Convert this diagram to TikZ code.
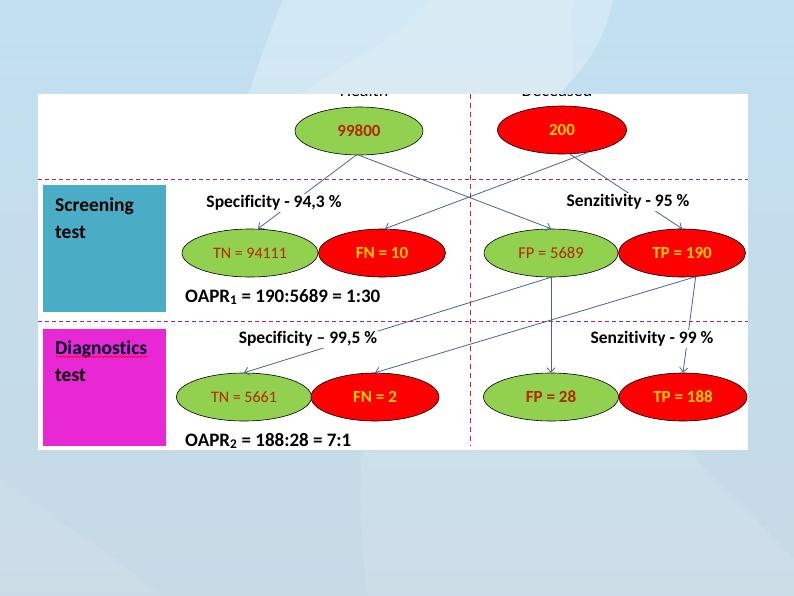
\documentclass[tikz,border=0pt]{standalone}
\usepackage{fontspec}
\setmainfont{Carlito}[Ligatures=NoCommon]
\usetikzlibrary{shapes.geometric,arrows.meta,decorations.pathmorphing}
\definecolor{bgtop}{RGB}{194,224,241}
\definecolor{bgbot}{RGB}{199,217,229}
\definecolor{gfill}{RGB}{146,208,80}
\definecolor{rfill}{RGB}{255,0,0}
\definecolor{gtext}{RGB}{180,40,0}
\definecolor{rtext}{RGB}{255,205,0}
\definecolor{arrc}{RGB}{72,100,148}
\definecolor{hdc}{RGB}{160,40,110}
\definecolor{vdc}{RGB}{205,30,50}
\definecolor{teal}{RGB}{75,172,198}
\definecolor{magb}{RGB}{232,40,212}
\begin{document}
\begin{tikzpicture}[x=1pt,y=-1pt,
  ell/.style={ellipse,draw=black,line width=0.6pt,inner sep=0pt,minimum height=48pt},
  gell/.style={ell,fill=gfill,text=gtext,font=\fontsize{17}{19}\selectfont\bfseries},
  rell/.style={ell,fill=rfill,text=rtext,font=\fontsize{17}{19}\selectfont\bfseries},
  arr/.style={draw=arrc,line width=0.8pt,-{Straight Barb[length=4.5pt,width=8pt]}},
  lab/.style={fill=white,inner sep=1pt,font=\fontsize{17.5}{20}\selectfont\bfseries},
  boxt/.style={anchor=west,inner sep=0pt,font=\fontsize{19.5}{22}\selectfont\bfseries},
  oapr/.style={anchor=west,inner sep=0pt,font=\fontsize{19}{22}\selectfont\bfseries},
  toplab/.style={anchor=base,inner sep=0pt,font=\fontsize{18}{20}\selectfont},
  hdash/.style={draw=hdc,line width=0.7pt,dash pattern=on 4pt off 3pt},
  vdash/.style={draw=vdc,line width=0.7pt,dash pattern=on 5pt off 4pt}]
\useasboundingbox (0,0) rectangle (794,595);
% background
\shade[top color=bgtop,bottom color=bgbot] (0,0) rectangle (794,595);
\fill[white,opacity=0.28] (283,0) -- (613,0) .. controls (605,40) and (585,70) .. (557,95) -- (248,95) .. controls (260,60) and (270,30) .. (283,0);
\fill[white,opacity=0.15] (250,95) -- (560,95) .. controls (590,60) and (560,30) .. (575,0) -- (430,0) .. controls (400,40) and (330,70) .. (300,95) -- cycle;
\fill[white,opacity=0.12] (362,450) .. controls (358,500) and (362,560) .. (368,595) -- (794,595) -- (794,560) .. controls (740,500) and (700,470) .. (690,450) -- cycle;
\fill[white,opacity=0.10] (0,480) .. controls (60,520) and (120,560) .. (160,595) -- (0,595) -- cycle;
% panel
\fill[white] (38,94) rectangle (748,450);
\begin{scope}
  \clip (38,94) rectangle (748,450);
  \node[toplab] (hl) at (364,96.5) {Health};
  \node[toplab] (dl) at (557,96.5) {Deceased};
\end{scope}
% dashed grid
\draw[hdash] (38,179) -- (748,179);
\draw[hdash] (38,321) -- (748,321);
\draw[vdash] (470,94) -- (470,446);
% side boxes
\fill[teal] (43,185) rectangle (166,312);
\fill[magb] (43,329) rectangle (166,446);
\node[boxt] (s1) at (55,206) {Screening};
\node[boxt] (s2) at (55,232) {test};
\node[boxt,text=black!85!blue] (d1) at (55,349) {Diagnostics};
\node[boxt] (d2) at (55,375) {test};
\draw[red,line width=0.5pt,decorate,decoration={snake,amplitude=0.8pt,segment length=3pt}] (d1.south west) ++(1,-1) -- ++(92,0);
% ellipses
\node[gell,minimum width=128pt] (h) at (359,131) {99800};
\node[rell,minimum width=129pt] (d) at (562,130) {200};
\node[gell,minimum width=136pt,font=\fontsize{16}{18}\selectfont] (tn1) at (250,253) {TN = 94111};
\node[rell,minimum width=127pt] (fn1) at (382,253) {FN = 10};
\node[gell,minimum width=134pt,font=\fontsize{16.5}{18}\selectfont] (fp1) at (551,253) {FP = 5689};
\node[rell,minimum width=127pt] (tp1) at (682,253) {TP = 190};
\node[gell,minimum width=135pt,font=\fontsize{16}{18}\selectfont] (tn2) at (244,397) {TN = 5661};
\node[rell,minimum width=128pt] (fn2) at (375,397) {FN = 2};
\node[gell,minimum width=135pt] (fp2) at (551,397) {FP = 28};
\node[rell,minimum width=128pt] (tp2) at (683,397) {TP = 188};
% arrows
\draw[arr] ([xshift=-3pt]h.south) -- ([xshift=8pt]tn1.north);
\draw[arr] (h.south) -- (fp1.north);
\draw[arr] (d.-40) -- ([xshift=3pt]fn1.north);
\draw[arr] (d.-72) -- (tp1.north);
\draw[arr] (fp1.south) -- (tn2.north);
\draw[arr] (fp1.south) -- (fp2.north);
\draw[arr] (tp1.-60) -- (fn2.north);
\draw[arr] (tp1.-60) -- (tp2.north);
% labels
\node[lab] (sp1) at (274,203) {Specificity - 94,3 \%};
\node[lab] (se1) at (628,202) {Senzitivity - 95 \%};
\node[lab] (sp2) at (308,339) {Specificity – 99,5 \%};
\node[lab] (se2) at (652,339) {Senzitivity - 99 \%};
% ratios
\node[oapr] (o1) at (185,297) {OAPR\textsubscript{1} = 190:5689 = 1:30};
\node[oapr] (o2) at (185,441) {OAPR\textsubscript{2} = 188:28 = 7:1};
\end{tikzpicture}
\end{document}
